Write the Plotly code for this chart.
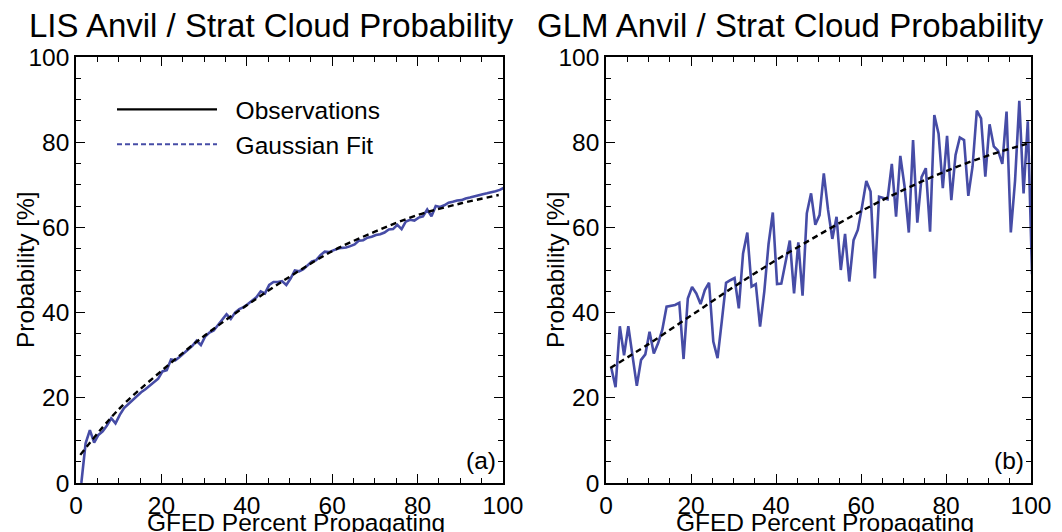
import plotly.graph_objects as go

# ---------------- data ----------------
pct_x = [i + 0.25 for i in range(1, 101)]

lis_obs = [0.0, 9.3, 12.4, 9.5, 11.3, 12.1, 13.5, 15.2, 14.0, 16.0,
           17.6, 18.5, 19.6, 20.5, 21.3, 22.0, 22.8, 23.5, 24.5, 26.2,
           26.5, 29.0, 28.8, 29.6, 30.5, 31.4, 32.2, 33.4, 32.4, 34.4,
           35.3, 35.8, 37.0, 38.4, 39.6, 38.5, 40.0, 40.8, 41.3, 42.0,
           42.8, 43.6, 45.0, 44.5, 46.5, 47.2, 47.2, 47.4, 46.5, 48.0,
           49.9, 49.7, 50.2, 51.2, 52.0, 52.3, 53.5, 54.3, 54.2, 54.6,
           55.0, 55.2, 55.3, 55.6, 56.0, 56.9, 57.0, 57.6, 57.8, 58.2,
           58.4, 58.8, 59.5, 59.6, 60.6, 59.6, 61.4, 61.8, 61.6, 62.3,
           62.6, 64.2, 62.6, 65.0, 64.8, 65.2, 65.8, 66.0, 66.3, 66.4,
           66.8, 67.0, 67.3, 67.5, 67.8, 68.0, 68.2, 68.5, 68.8, 69.3]

glm_obs = [27.0, 22.5, 36.8, 30.0, 36.8, 30.0, 22.8, 28.9, 30.2, 35.5,
           30.4, 32.8, 36.0, 41.4, 41.6, 41.8, 42.3, 29.1, 43.3, 46.0,
           44.5, 42.0, 45.3, 47.0, 33.2, 29.3, 38.0, 47.0, 47.6, 48.1,
           41.0, 53.9, 58.8, 46.1, 46.7, 36.7, 45.0, 56.1, 63.5, 46.7,
           46.8, 52.3, 56.9, 44.5, 56.5, 44.0, 63.3, 68.0, 60.6, 62.9,
           72.7, 64.1, 57.3, 62.5, 50.0, 58.5, 47.3, 57.0, 59.4, 64.9,
           70.9, 68.4, 48.0, 67.2, 66.9, 66.6, 74.9, 62.5, 76.8, 69.6,
           58.8, 80.5, 61.1, 71.8, 73.9, 59.0, 86.4, 82.0, 69.2, 81.5,
           66.4, 77.0, 81.1, 80.5, 67.4, 74.3, 87.4, 85.6, 71.9, 84.2,
           79.0, 78.0, 74.9, 87.2, 58.8, 71.0, 89.7, 68.0, 84.9, 49.0]

fit_x = [1, 10, 20, 30, 40, 50, 60, 70, 80, 90, 99]
lis_fit = [6.6, 17.3, 26.3, 34.5, 41.7, 48.4, 54.4, 59.0, 62.9, 65.6, 67.6]
glm_fit = [27.0, 32.6, 39.3, 46.0, 52.3, 58.2, 63.8, 68.8, 73.2, 76.9, 79.6]

titles = ["LIS Anvil / Strat Cloud Probability", "GLM Anvil / Strat Cloud Probability"]
panel_tags = ["(a)", "(b)"]
x_ticks = [0, 20, 40, 60, 80, 100]
y_ticks = [0, 20, 40, 60, 80, 100]

# ---------------- style ----------------
OFF = 8                      # page body margin
W, H = 1062 - OFF, 532 - OFF
BLUE = "rgb(70,76,166)"
FONT = "Liberation Sans, Arial, Helvetica, sans-serif"
FS = 24.5


def px(sx):
    return (sx - OFF) / W


def py(sy):
    return 1 - (sy - OFF) / H


dom_x = [[px(76), px(503)], [px(606), px(1031)]]
dom_y = [py(483), py(57)]

fig = go.Figure()

panels = [(lis_obs, lis_fit, "x", "y"), (glm_obs, glm_fit, "x2", "y2")]
for i, (obs, fit, xa, ya) in enumerate(panels):
    fig.add_trace(go.Scatter(x=pct_x, y=obs, mode="lines", xaxis=xa, yaxis=ya,
                             line=dict(color=BLUE, width=2.6), showlegend=False,
                             cliponaxis=False))
    fig.add_trace(go.Scatter(x=fit_x, y=fit, mode="lines", xaxis=xa, yaxis=ya,
                             line=dict(color="black", width=2.4, dash="6px,4px",
                                       shape="spline", smoothing=1.0),
                             showlegend=False))

NB = "\u00a0\u00a0"
fig.add_trace(go.Scatter(x=[None], y=[None], mode="lines", name=NB + "Observations",
                         line=dict(color="black", width=2.2), showlegend=True))
fig.add_trace(go.Scatter(x=[None], y=[None], mode="lines", name=NB + "Gaussian Fit",
                         line=dict(color=BLUE, width=2.0, dash="5px,3px"), showlegend=True))

axis_common = dict(
    range=[0, 100], showgrid=False, zeroline=False, automargin=False,
    showline=True, linecolor="black", linewidth=1.6, mirror="ticks",
    ticks="inside", ticklen=9, tickwidth=1.4, tickcolor="black",
    tickmode="array", tickvals=x_ticks,
    minor=dict(ticks="inside", dtick=5, ticklen=5, tickwidth=1.2, tickcolor="black"),
    tickfont=dict(size=FS, color="black", family=FONT),
)

layout = dict(
    width=W, height=H,
    margin=dict(l=0, r=0, t=0, b=0, autoexpand=False),
    paper_bgcolor="white", plot_bgcolor="white",
    font=dict(family=FONT, color="black"),
    showlegend=True,
    legend=dict(x=px(112), y=py(87), xanchor="left", yanchor="top",
                bgcolor="rgba(0,0,0,0)", font=dict(size=FS, family=FONT, color="black"),
                itemwidth=100, tracegroupgap=0),
)
layout["xaxis"] = dict(axis_common, domain=dom_x[0], anchor="y")
layout["yaxis"] = dict(axis_common, domain=dom_y, anchor="x", tickvals=y_ticks)
layout["xaxis2"] = dict(axis_common, domain=dom_x[1], anchor="y2")
layout["yaxis2"] = dict(axis_common, domain=dom_y, anchor="x2", tickvals=y_ticks)
fig.update_layout(**layout)

ann = []
title_cx = [271, 790]
xtitle_cx = [296, 825]
lefts = [76, 606]
rights = [503, 1031]
for i in range(2):
    ann.append(dict(text=titles[i], x=px(title_cx[i]), y=py(25), xref="paper", yref="paper",
                    xanchor="center", yanchor="middle", showarrow=False,
                    font=dict(size=33, family=FONT, color="black")))
    ann.append(dict(text="GFED Percent Propagating", x=px(xtitle_cx[i]), y=py(507),
                    xref="paper", yref="paper", xanchor="center", yanchor="top",
                    showarrow=False, font=dict(size=FS, family=FONT, color="black")))
    ann.append(dict(text="Probability [%]", x=px(lefts[i] - 51), y=py(270),
                    xref="paper", yref="paper", xanchor="center", yanchor="middle",
                    textangle=-90, showarrow=False,
                    font=dict(size=FS, family=FONT, color="black")))
    ann.append(dict(text=panel_tags[i], x=px(rights[i] - 5), y=py(460),
                    xref="paper", yref="paper", xanchor="right", yanchor="middle",
                    showarrow=False, font=dict(size=FS, family=FONT, color="black")))
fig.update_layout(annotations=ann)

fig.write_html("out.html")
